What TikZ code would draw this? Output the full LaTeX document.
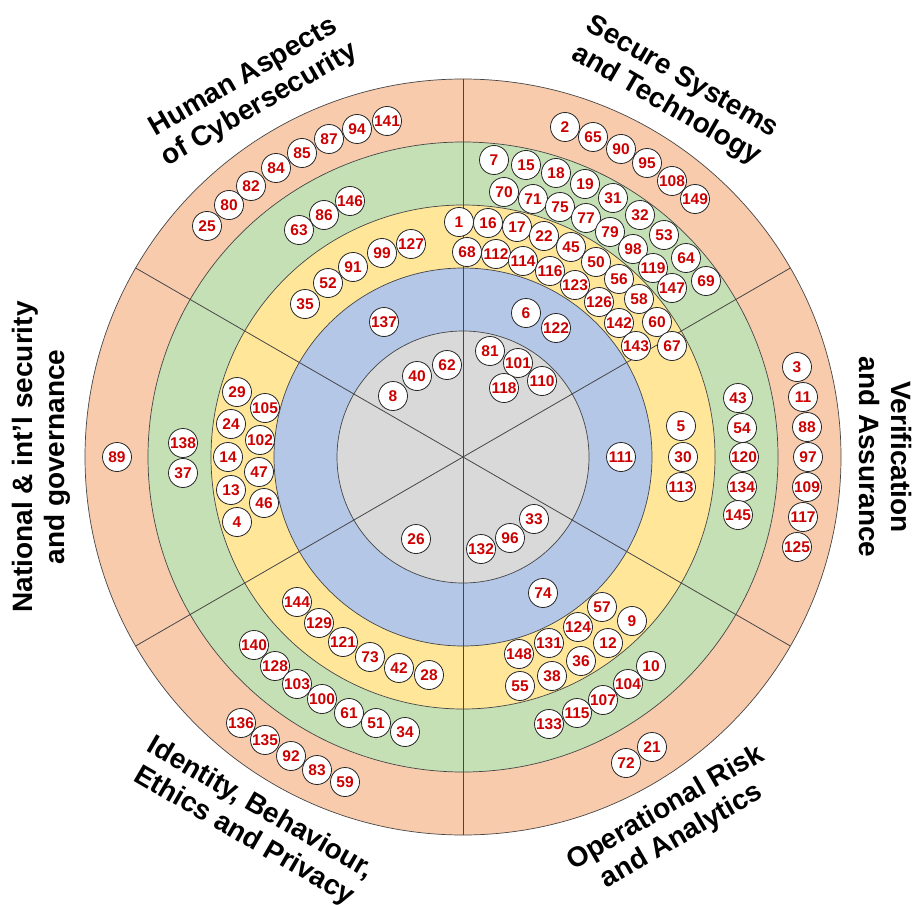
\documentclass[tikz,border=0pt]{standalone}
\usepackage{fontspec}
\setmainfont{Liberation Sans}
\usetikzlibrary{calc}
\definecolor{ringout}{RGB}{248,203,173}
\definecolor{ringgreen}{RGB}{197,224,180}
\definecolor{ringyellow}{RGB}{255,230,153}
\definecolor{ringblue}{RGB}{180,199,231}
\definecolor{ringgray}{RGB}{217,217,217}
\definecolor{numred}{RGB}{204,0,0}
\definecolor{edgegray}{RGB}{70,70,70}
\tikzset{
  ring/.style={draw=edgegray, line width=0.7pt},
  divider/.style={draw=edgegray, line width=0.8pt},
  bubble/.style={circle, draw=black!85, fill=white, line width=0.8pt,
    minimum size=29pt, inner sep=0pt, text=numred,
    font=\fontsize{15.5}{15.5}\selectfont\bfseries},
  area/.style={font=\fontsize{28}{32}\selectfont\bfseries, align=center}
}

\begin{document}
\begin{tikzpicture}[x=1pt,y=-1pt]
  \useasboundingbox (0,0) rectangle (912,904);
  \coordinate (c) at (463,457);

  % rings
  \fill[ring, fill=ringout]    (c) circle [radius=378pt];
  \fill[ring, fill=ringgreen]  (c) circle [radius=315pt];
  \fill[ring, fill=ringyellow] (c) circle [radius=252pt];
  \fill[ring, fill=ringblue]   (c) circle [radius=189pt];
  \fill[ring, fill=ringgray]   (c) circle [radius=126pt];
  \foreach \a in {90,30,-30,-90,-150,150}
    \draw[divider] (c) -- ++(\a:378pt);

  % area labels
  \node[area, rotate=-30] (sst) at ($(c)+(60:422pt)$)   {Secure Systems\\and Technology};
  \node[area, rotate=30]  (hum) at ($(c)+(120:422pt)$)  {Human Aspects\\of Cybersecurity};
  \node[area, rotate=90]  (nat) at ($(c)+(180:422pt)$)  {National \& int'l security\\and governance};
  \node[area, rotate=-90] (ver) at ($(c)+(0:422pt)$)    {Verification\\and Assurance};
  \node[area, rotate=30]  (opr) at ($(c)+(-60:422pt)$)  {Operational Risk\\and Analytics};
  \node[area, rotate=-30] (idn) at ($(c)+(-120:422pt)$) {Identity, Behaviour,\\Ethics and Privacy};

  % Secure Systems and Technology
  \foreach \x/\y/\n in {565/127/2, 593/137/65, 621/149/90, 647/163/95, 672/181/108, 695/199/149,
      494/160/7, 526/165/15, 556/173/18, 585/184/19, 613/198/31, 640/215/32, 664/235/53,
      686/258/64, 706/281/69, 504/192/70, 533/199/71, 560/207/75, 586/218/77, 610/232/79,
      633/249/98, 653/268/119, 672/288/147,
      459/222/1, 488/223/16, 517/227/17, 544/236/22, 571/247/45, 596/262/50, 619/279/56,
      639/299/58, 657/322/60, 672/346/67, 467/252/68, 496/254/112, 523/261/114, 550/271/116,
      575/285/123, 599/302/126, 619/323/142, 636/346/143,
      526/313/6, 556/328/122, 490/351/81, 518/363/101, 504/388/118, 542/381/110}
    \node[bubble] (b\n) at (\x,\y) {\n};

  % Human Aspects of Cybersecurity
  \foreach \x/\y/\n in {207/226/25, 229/205/80, 251/186/82, 276/168/84, 302/153/85, 329/139/87,
      357/129/94, 387/121/141, 299/230/63, 324/215/86, 350/201/146,
      305/304/35, 328/283/52, 353/267/91, 382/253/99, 411/244/127,
      384/322/137, 447/365/62, 417/376/40, 393/396/8}
    \node[bubble] (b\n) at (\x,\y) {\n};

  % National & int'l security and governance
  \foreach \x/\y/\n in {117/457/89, 183/443/138, 183/473/37,
      237/392/29, 265/408/105, 231/424/24, 260/440/102, 228/457/14, 259/472/47,
      231/490/13, 264/503/46, 237/522/4}
    \node[bubble] (b\n) at (\x,\y) {\n};

  % Verification and Assurance
  \foreach \x/\y/\n in {797/367/3, 803/397/11, 807/427/88, 808/457/97, 807/487/109, 803/517/117,
      797/547/125, 738/398/43, 742/428/54, 744/457/120, 742/487/134, 738/515/145,
      681/426/5, 683/457/30, 681/487/113, 621/457/111}
    \node[bubble] (b\n) at (\x,\y) {\n};

  % Operational Risk and Analytics
  \foreach \x/\y/\n in {534/519/33, 510/538/96, 481/549/132, 543/593/74,
      602/607/57, 632/621/9, 578/627/124, 608/643/12, 549/643/131, 519/654/148,
      581/661/36, 552/676/38, 520/686/55,
      651/666/10, 628/684/104, 603/700/107, 577/713/115, 549/724/133,
      652/747/21, 626/763/72}
    \node[bubble] (b\n) at (\x,\y) {\n};

  % Identity, Behaviour, Ethics and Privacy
  \foreach \x/\y/\n in {416/539/26,
      297/602/144, 319/623/129, 343/642/121, 370/657/73, 399/668/42, 429/675/28,
      254/645/140, 275/666/128, 297/684/103, 322/699/100, 349/713/61, 376/723/51, 405/732/34,
      241/723/136, 265/740/135, 291/756/92, 317/770/83, 345/782/59}
    \node[bubble] (b\n) at (\x,\y) {\n};
\end{tikzpicture}
\end{document}
